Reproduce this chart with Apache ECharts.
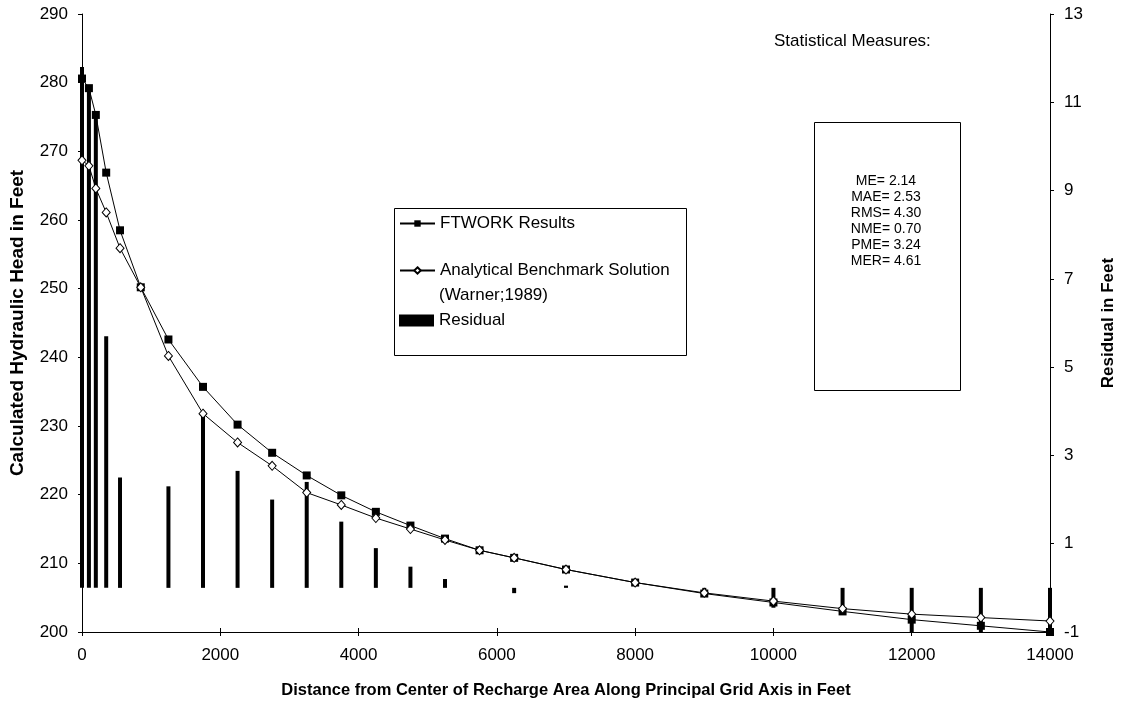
<!DOCTYPE html>
<html>
<head>
<meta charset="utf-8">
<script src="https://cdn.jsdelivr.net/npm/echarts@6/dist/echarts.min.js"></script>
<style>
  html, body { margin: 0; padding: 0; background: #fff; }
  #chart { width: 1125px; height: 704px; }
</style>
</head>
<body>
<div id="chart"></div>
<script>
// ---- data ----
const distances = [0, 100, 200, 350, 550, 850, 1250, 1750, 2250, 2750, 3250, 3750, 4250, 4750, 5250, 5750, 6250, 7000, 8000, 9000, 10000, 11000, 12000, 13000, 14000];
const ftworkHead = [280.6, 279.2, 275.3, 266.9, 258.5, 250.2, 242.6, 235.7, 230.2, 226.1, 222.8, 219.9, 217.5, 215.5, 213.6, 211.9, 210.8, 209.1, 207.2, 205.6, 204.3, 203.0, 201.8, 200.9, 200.0];
const analyticalHead = [268.7, 267.9, 264.6, 261.1, 255.9, 250.2, 240.2, 231.8, 227.6, 224.2, 220.3, 218.5, 216.6, 215.0, 213.4, 211.9, 210.8, 209.1, 207.2, 205.7, 204.5, 203.4, 202.6, 202.1, 201.6];
const residuals = [11.8, 11.3, 10.7, 5.7, 2.5, 0, 2.3, 3.95, 2.65, 2.0, 2.4, 1.5, 0.9, 0.48, 0.2, 0, -0.12, 0.05, 0, -0.2, -0.45, -0.6, -1.1, -1.3, -1.6];
const residualTicks = [-1, 1, 3, 5, 7, 9, 11, 13];
const headMin = 200, headMax = 290;
const statLabels = ['ME= 2.14', 'MAE= 2.53', 'RMS= 4.30', 'NME= 0.70', 'PME= 3.24', 'MER= 4.61'];
const seriesNames = ['FTWORK Results', 'Analytical Benchmark Solution', 'Residual'];

const FONT = '"Liberation Sans", Arial, sans-serif';
const black = '#000';

const pair = (xs, ys) => xs.map((x, i) => [x, ys[i]]);

const chart = echarts.init(document.getElementById('chart'), null, { renderer: 'canvas' });

const W = 1125, H = 704;
const GRID = { left: 82, right: 64, top: 14, bottom: 72 };
const plotH = H - GRID.top - GRID.bottom;

const mkLine = (extra) => Object.assign({ show: true, onZero: false, lineStyle: { color: black, width: 1, type: 'solid' } }, extra || {});
const mkTick = (extra) => Object.assign({ show: true, inside: false, length: 4, lineStyle: { color: black, width: 1 } }, extra || {});
const mkLabel = (extra) => Object.assign({ color: black, fontFamily: FONT, fontSize: 17 }, extra || {});
const mkName = (size) => ({ color: black, fontFamily: FONT, fontSize: size, fontWeight: 'bold' });
const hidden = { show: false };

const option = {
  animation: false,
  backgroundColor: '#fff',
  grid: Object.assign({ containLabel: false }, GRID),
  xAxis: [
    {
      type: 'value', min: 0, max: 14000, interval: 2000, position: 'bottom',
      axisLine: mkLine(),
      axisTick: mkTick(),
      axisLabel: mkLabel({ margin: 15, formatter: v => String(v) }),
      splitLine: hidden,
      name: 'Distance from Center of Recharge Area Along Principal Grid Axis in Feet',
      nameLocation: 'middle', nameGap: 50, nameTextStyle: mkName(16.5)
    },
    {
      // helper axis placed on the bottom edge: inner half of the crossing ticks
      type: 'value', min: 0, max: 14000, interval: 2000, position: 'top', offset: -plotH,
      axisLine: mkLine(), axisTick: mkTick(),
      axisLabel: hidden, splitLine: hidden
    }
  ],
  yAxis: [
    {
      type: 'value', min: headMin, max: headMax, interval: 10, position: 'left',
      axisLine: mkLine(),
      axisTick: mkTick(),
      axisLabel: mkLabel({ margin: 14 }),
      splitLine: hidden,
      name: 'Calculated Hydraulic Head in Feet',
      nameLocation: 'middle', nameGap: 55, nameTextStyle: mkName(19)
    },
    {
      type: 'value', min: -1, max: 13, position: 'right',
      axisLine: mkLine(),
      axisTick: mkTick({ customValues: residualTicks }),
      axisLabel: mkLabel({ margin: 14, customValues: residualTicks }),
      splitLine: hidden,
      name: 'Residual in Feet',
      nameLocation: 'middle', nameGap: 50, nameRotate: 90, nameTextStyle: mkName(17)
    }
  ],
  legend: [
    {
      data: [seriesNames[0]], orient: 'vertical', left: 399, top: 215,
      itemWidth: 35, itemHeight: 8, selectedMode: false, padding: 0,
      textStyle: { color: black, fontFamily: FONT, fontSize: 17 }
    },
    {
      data: [seriesNames[1]], orient: 'vertical', left: 399, top: 262,
      itemWidth: 35, itemHeight: 8, selectedMode: false, padding: 0,
      textStyle: { color: black, fontFamily: FONT, fontSize: 17 }
    },
    {
      data: [{ name: seriesNames[2], icon: 'rect' }], orient: 'vertical', left: 399, top: 312,
      itemWidth: 35, itemHeight: 12, selectedMode: false, padding: 0,
      textStyle: { color: black, fontFamily: FONT, fontSize: 17 }
    }
  ],
  graphic: [
    { type: 'rect', left: 392, top: 206, shape: { width: 292, height: 147 }, style: { fill: 'none', stroke: black, lineWidth: 1 }, z: 5 },
    { type: 'text', left: 439, top: 287, style: { text: '(Warner;1989)', fill: black, font: '17px ' + FONT }, z: 6 },
    { type: 'text', left: 774, top: 33, style: { text: 'Statistical Measures:', fill: black, font: '17px ' + FONT }, z: 6 },
    { type: 'rect', left: 812, top: 120, shape: { width: 146, height: 268 }, style: { fill: 'none', stroke: black, lineWidth: 1 }, z: 5 },
    { type: 'text', x: 886, y: 173, style: { text: statLabels.join('\n'), fill: black, font: '14px ' + FONT, align: 'center', lineHeight: 16 }, z: 6 }
  ],
  series: [
    {
      name: seriesNames[2], type: 'bar', xAxisIndex: 0, yAxisIndex: 1,
      barWidth: 4, data: pair(distances, residuals),
      itemStyle: { color: black }, clip: true, z: 1
    },
    {
      name: seriesNames[0], type: 'line', xAxisIndex: 0, yAxisIndex: 0,
      data: pair(distances, ftworkHead),
      symbol: 'rect', symbolSize: 8, showAllSymbol: true,
      lineStyle: { color: black, width: 1 },
      itemStyle: { color: black, borderColor: black, borderWidth: 0 }, z: 3
    },
    {
      name: seriesNames[1], type: 'line', xAxisIndex: 0, yAxisIndex: 0,
      data: pair(distances, analyticalHead),
      symbol: 'diamond', symbolSize: [8, 9], showAllSymbol: true,
      lineStyle: { color: black, width: 1 },
      itemStyle: { color: '#fff', borderColor: black, borderWidth: 1 }, z: 4
    }
  ]
};

chart.setOption(option);
</script>
</body>
</html>
